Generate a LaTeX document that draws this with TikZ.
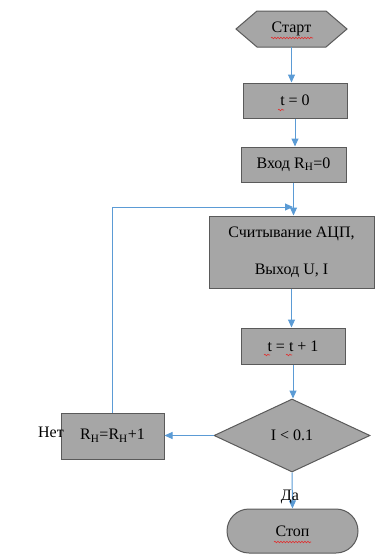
\documentclass[tikz,border=0pt]{standalone}
\usepackage{fontspec}
\setmainfont{Liberation Serif}
\usetikzlibrary{shapes.geometric,shapes.misc,arrows.meta,decorations.pathmorphing}
\definecolor{boxfill}{HTML}{A6A6A6}
\definecolor{boxline}{HTML}{5A5A5A}
\definecolor{arrblue}{HTML}{5B9BD5}
\definecolor{squig}{HTML}{E03030}
\begin{document}
\begin{tikzpicture}[x=1pt,y=-1pt,font=\fontsize{16}{19}\selectfont,
  box/.style={draw=boxline,fill=boxfill,line width=1pt,rectangle,inner sep=0pt},
  arr/.style={draw=arrblue,line width=1pt,-{Triangle[length=8pt,width=7pt]}},
  wavy/.style={draw=squig,line width=0.6pt,decorate,decoration={snake,segment length=3pt,amplitude=0.8pt}}]
\useasboundingbox (0,0) rectangle (375,554);
% start hexagon
\draw[draw=boxline,fill=boxfill,line width=1pt] (236,29) -- (257,11) -- (326,11) -- (347,29) -- (326,47) -- (257,47) -- cycle;
\node[minimum width=111pt,minimum height=36pt,inner sep=0pt] (start) at (291.5,29) {Старт};
\node[box,minimum width=104pt,minimum height=35pt] (t0) at (295,100.5) {t = 0};
\node[box,minimum width=105pt,minimum height=35pt] (in) at (293.5,164.5) {Вход R\textsubscript{Н}=0};
\node[box,minimum width=165pt,minimum height=72pt,align=center,font=\fontsize{16}{37}\selectfont] (read) at (291.5,252) {Считывание АЦП,\\Выход U, I};
\node[box,minimum width=104pt,minimum height=36pt] (inc) at (293,346) {t = t + 1};
\node[draw=boxline,fill=boxfill,line width=1pt,diamond,aspect=2.14,minimum width=156pt,minimum height=73pt,inner sep=0pt] (dec) at (292,435.5) {I < 0.1};
\node[box,minimum width=103pt,minimum height=46pt] (rh) at (112.5,436) {R\textsubscript{Н}=R\textsubscript{Н}+1};
\node[draw=boxline,fill=boxfill,line width=1pt,rounded rectangle,minimum width=131pt,minimum height=44pt,inner sep=0pt] (stop) at (292.5,531) {Стоп};
\coordinate (join) at (293,207);
% connectors
\draw[arr] (start.south) -- (start.south |- t0.north);
\draw[arr] (t0.south) -- (t0.south |- in.north);
\draw[arr] (in.south) -- (in.south |- read.north);
\draw[arr] (read.south) -- (read.south |- inc.north);
\draw[arr] (inc.south) -- (inc.south |- dec.north);
\draw[arr] (dec.west) -- (rh.east |- dec.west);
\draw[arr] (rh.north) -- (rh.north |- join) -- (join);
\draw[arr] (dec.south) -- (stop.north);
\node (da) at (290,497) {Да};
\node (net) at (51,432) {Нет};
% spell-check squiggles
\draw[wavy] (271,38) -- (313,38);
\draw[wavy] (274,542) -- (311,542);
\draw[wavy] (278,110) -- (284,110);
\draw[wavy] (264,355) -- (270,355);
\draw[wavy] (286,355) -- (292,355);
\end{tikzpicture}
\end{document}
